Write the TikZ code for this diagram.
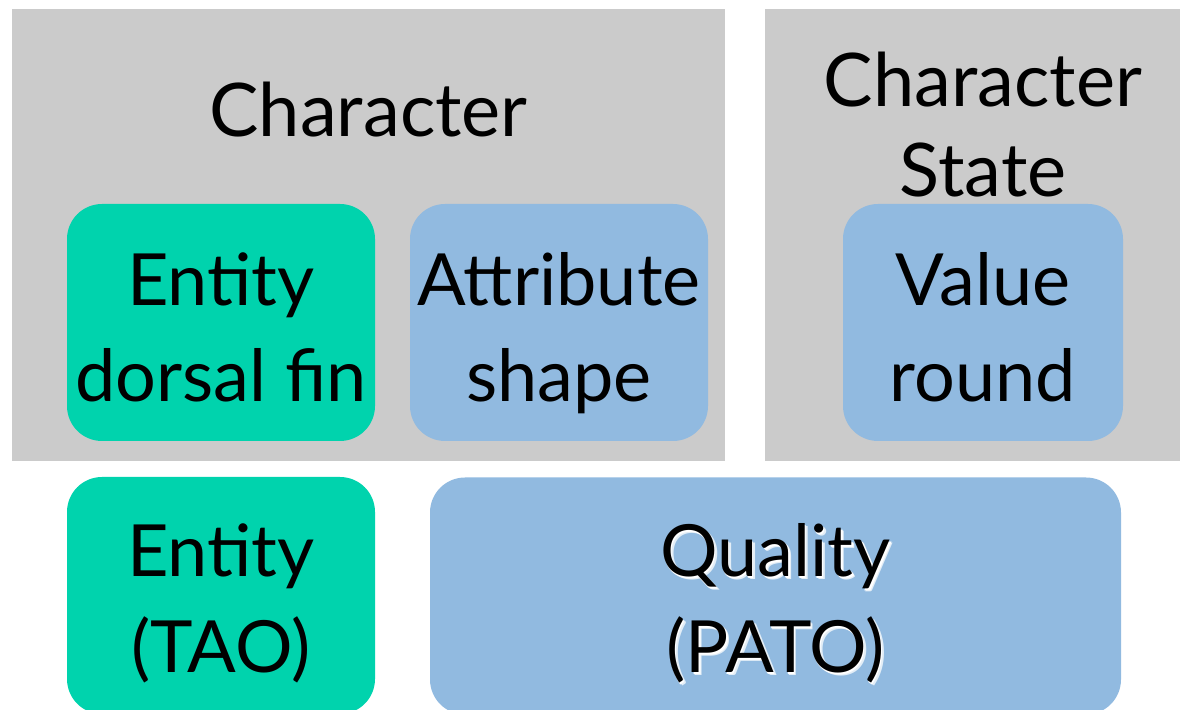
\documentclass[tikz,border=0pt]{standalone}
\usepackage{fontspec}
\setmainfont{Lato}
\usepackage{tikz}
\usetikzlibrary{positioning}

\definecolor{panelgray}{HTML}{CBCBCB}
\definecolor{entitygreen}{HTML}{00D3AD}
\definecolor{qualityblue}{HTML}{91BAE0}

% big slide fonts
\newcommand{\slidefont}{\fontsize{36}{48}\selectfont}
\newcommand{\titlefont}{\fontsize{37}{45}\selectfont}
% soft white shadow behind one line of text
\newcommand{\glowline}[1]{\makebox[0pt][l]{\hspace{1.4pt}\raisebox{-1.4pt}{\color{white!75!qualityblue}#1}}\makebox[0pt][l]{\hspace{0.7pt}\raisebox{-0.7pt}{\color{white}#1}}#1}

\begin{document}
\begin{tikzpicture}[x=0.5pt,y=-0.5pt,
    panel/.style={rectangle,fill=panelgray,inner sep=0pt,anchor=north west},
    termbox/.style={rectangle,rounded corners=17.5pt,inner sep=0pt,align=center,font=\slidefont,
        minimum height=118.5pt,text depth=0pt},
    panellabel/.style={align=center,font=\titlefont,inner sep=0pt}]
    \useasboundingbox (0,0) rectangle (1180,710);
    \clip (0,0) rectangle (1180,710);

    % Pannelli grigi
    \node[panel,minimum width=356.5pt,minimum height=226pt] (charpanel) at (12,9) {};
    \node[panel,minimum width=212.5pt,minimum height=226pt] (statepanel) at (765,9) {};

    % Titoli dei pannelli
    \node[panellabel,anchor=base] (charlabel) at (368.5,137) {Character};
    \node[panellabel,anchor=north] (statelabel) at (983,52) {Character\\State};

    % Termini del carattere
    \node[termbox,fill=entitygreen,minimum width=154pt,text height=79.5pt] (entity) at (221,322.5) {Entity\\dorsal fin};
    \node[termbox,fill=qualityblue,minimum width=149pt,text height=79.5pt] (attribute) at (559,322.5) {Attribute\\shape};
    \node[termbox,fill=qualityblue,minimum width=140pt,text height=79.5pt] (value) at (983,322.5) {Value\\round};

    % Ontologie
    \node[termbox,fill=entitygreen,minimum width=154pt,text height=77.5pt] (tao) at (221,595.5) {Entity\\(TAO)};
    \node[termbox,fill=qualityblue,minimum width=345.5pt,text height=77pt] (pato) at (775.5,596) {\glowline{Quality}\\\glowline{(PATO)}};
\end{tikzpicture}
\end{document}
